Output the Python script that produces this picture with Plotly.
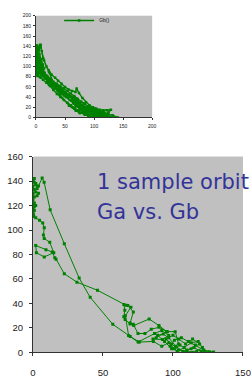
import plotly.graph_objects as go

# ---- one sample orbit (lower chart): Ga vs. Gb ----
orbit_ga = [0.5, 0, 1, 0, 2, 1, 0, 1, 3, 4, 2, 0, 1, 0, 2, 1, 0, 1, 0, 2, 3, 4, 6.6, 8,
            12.3, 22.4, 33, 40.9, 57, 69.5, 76, 86, 92, 97, 101, 105, 110, 115, 120, 126, 129,
            122, 116, 111, 106, 101, 98, 103, 108, 113, 118, 121, 117, 110, 104, 99, 95, 100,
            104, 109, 114, 119, 113, 107, 102, 97, 93, 89, 94, 99, 104, 101.6, 96, 90, 84.5,
            80, 75, 71.7, 69.4, 65.8, 64.9, 65.6, 64.9, 67.8, 71.7, 69.4, 72, 83, 90, 95.5,
            88, 85.7, 92.5, 97, 92, 86.8, 75.1, 68.3, 66, 70, 66.5, 46.1, 31.4, 22.4, 16.5,
            15.6, 13.8, 9.3, 2, 2.5, 8.1, 14.9, 12, 8.1, 7.5, 8.1, 7, 4.7, 2, 0.5, 0, 1, 0]
orbit_gb = [111, 113, 116, 118, 120, 122, 125, 127, 128, 130, 131, 129, 133, 136, 137, 139, 141,
            142, 140, 138, 134, 136, 142.5, 139, 116.5, 88.8, 60.8, 45, 23, 13, 8.5, 9, 5, 8, 3,
            6, 2, 4, 1, 0.5, 0.3, 2, 6, 9, 12, 10, 5, 1, 4, 8, 9, 4, 1, 0.5, 2, 7, 11, 14, 11, 7,
            11, 7, 3, 1, 5, 12, 15, 14, 9, 3, 7, 17, 17, 20.5, 19, 15.4, 15.5, 23, 23.3, 27, 29.1,
            34.4, 39.2, 38.4, 33, 24, 22, 27.3, 22, 17, 12, 11, 10.6, 13.8, 18, 15.4, 8.5, 13.8,
            30, 37, 38.5, 50.8, 57.4, 64.3, 76.2, 77.3, 82, 83.8, 87.3, 81.5, 78, 81.5, 90, 93,
            96, 101.8, 105.8, 108, 110, 112, 114, 119, 121]

# ---- further orbits (upper chart, all in series "Gb()") ----
orbit_b_ga = [0, 2, 1, 3, 2, 5, 8, 10, 14, 18, 22, 27, 33, 38, 44, 50, 56, 62, 68, 70, 74, 80,
              86, 92, 98, 104, 110, 116, 122, 129, 125, 118, 112, 106, 100, 94, 88, 82, 76, 70,
              64, 58, 52, 46, 40, 34, 28, 22, 16, 10, 5, 2, 0]
orbit_b_gb = [95, 100, 108, 115, 124, 132, 143, 130, 112, 100, 92, 84, 78, 72, 66, 60, 55, 52,
              50, 57, 48, 38, 30, 24, 20, 17, 15, 14, 14, 15, 10, 6, 3, 1, 0, 2, 6, 10, 16, 22,
              28, 34, 40, 46, 52, 58, 64, 70, 77, 84, 90, 88, 92]
orbit_c_ga = [0, 3, 7, 12, 18, 24, 30, 36, 42, 48, 54, 60, 66, 72, 78, 84, 90, 96, 102, 110, 118,
              126, 134, 141, 132, 124, 116, 108, 100, 92, 86, 80, 74, 68, 62, 56, 50, 44, 38, 32,
              26, 20, 15, 11, 8, 5, 3, 1, 0, 2, 4, 6, 9, 12, 14, 12]
orbit_c_gb = [86, 84, 80, 74, 68, 62, 54, 46, 40, 34, 29, 24, 18, 13, 9, 5, 3, 1, 0, 1, 3, 2, 1,
              0, 4, 7, 10, 12, 14, 16, 19, 24, 29, 35, 40, 45, 50, 55, 61, 67, 73, 80, 88, 96, 105,
              113, 121, 128, 136, 140, 134, 124, 114, 104, 96, 90]
orbit_d_ga = [0, 4, 9, 15, 21, 27, 33, 39, 45, 51, 57, 63, 69, 75, 81, 87, 93, 99, 105, 111, 117,
              123, 117, 110, 104, 97, 90, 84, 78, 72, 66, 60, 54, 48, 42, 36, 30, 25, 19, 13, 8,
              4, 2, 1, 0, 3, 1, 5, 7, 10, 6, 3]
orbit_d_gb = [100, 96, 90, 84, 78, 72, 66, 60, 54, 48, 42, 37, 31, 26, 21, 17, 13, 10, 7, 5, 3,
              1, 8, 11, 14, 17, 22, 26, 31, 36, 42, 47, 52, 57, 62, 66, 70, 76, 82, 88, 94, 104,
              112, 120, 130, 138, 126, 118, 110, 100, 94, 90]
orbit_e_ga = [20, 26, 31, 37, 43, 49, 55, 61, 67, 73, 79, 85, 91, 97, 103, 109, 115, 121, 113,
              106, 99, 93, 87, 81, 75, 70, 64, 58, 52, 46, 40, 34, 28, 22]
orbit_e_gb = [72, 66, 58, 52, 47, 42, 38, 33, 28, 22, 17, 13, 10, 8, 5, 3, 2, 0, 5, 9, 12, 15,
              18, 22, 27, 31, 36, 41, 45, 50, 56, 62, 68, 74]
orbit_f_ga = [1, 3, 6, 10, 16, 23, 29, 35, 41, 47, 53, 59, 65, 71, 77, 83, 89, 95, 101, 107, 113,
              119, 127, 120, 112, 105, 98, 91, 85, 79, 73, 67, 61, 55, 49, 43, 37, 31, 25, 19, 14,
              9, 5, 2, 0]
orbit_f_gb = [104, 99, 93, 86, 79, 73, 69, 63, 57, 51, 46, 41, 35, 29, 23, 18, 15, 12, 9, 6, 4,
              2, 1, 6, 9, 11, 13, 16, 20, 25, 30, 35, 40, 43, 47, 52, 58, 63, 69, 75, 81, 87, 93,
              101, 107]

top_ga = orbit_ga + orbit_b_ga + orbit_c_ga + orbit_d_ga + orbit_e_ga + orbit_f_ga
top_gb = orbit_gb + orbit_b_gb + orbit_c_gb + orbit_d_gb + orbit_e_gb + orbit_f_gb

top_ticks = [0, 50, 100, 150, 200]
bottom_ticks = [0, 50, 100, 150]

GREEN = "#008000"
W, H = 251, 383

fig = go.Figure()
fig.add_trace(go.Scatter(
    x=top_ga, y=top_gb, name="Gb()", mode="lines+markers",
    line=dict(color=GREEN, width=1.4), marker=dict(color=GREEN, size=2.5, symbol="square"),
    xaxis="x", yaxis="y", showlegend=True))
fig.add_trace(go.Scatter(
    x=orbit_ga, y=orbit_gb, name="Gb()", mode="lines+markers",
    line=dict(color=GREEN, width=1), marker=dict(color=GREEN, size=3, symbol="square"),
    xaxis="x2", yaxis="y2", showlegend=False))

axis_common = dict(showgrid=False, zeroline=False, showline=True, linecolor="#333",
                   linewidth=1, ticks="outside", tickcolor="#333")

fig.update_layout(
    width=W, height=H, margin=dict(l=0, r=0, t=0, b=0),
    paper_bgcolor="white", plot_bgcolor="#c0c0c0",
    font=dict(family="Liberation Sans, Arial, sans-serif", color="#222"),
    xaxis=dict(domain=[34.5 / W, 156 / W], range=[0, 200], tickvals=top_ticks,
               ticklen=2, tickfont=dict(size=5), anchor="y", ticklabelstandoff=2,
               **axis_common),
    yaxis=dict(domain=[(H - 114.7) / H, (H - 10) / H], range=[0, 200], dtick=20,
               ticklen=2, tickfont=dict(size=5), anchor="x", ticklabelstandoff=1,
               **axis_common),
    xaxis2=dict(domain=[31.3 / W, 1], range=[0, 150], tickvals=bottom_ticks,
                ticklen=3, tickfont=dict(size=9.5), anchor="y2", ticklabelstandoff=8,
                ticklabeloverflow="allow", **axis_common),
    yaxis2=dict(domain=[(H - 356.7) / H, (H - 155) / H], range=[0, 160], dtick=20,
                ticklen=3, tickfont=dict(size=9.5), anchor="x2", ticklabelstandoff=4,
                **axis_common),
    legend=dict(x=88 / W, xanchor="center", y=1.0, yanchor="top", orientation="h",
                font=dict(size=5), itemwidth=30, bgcolor="rgba(0,0,0,0)",
                tracegroupgap=0),
    annotations=[
        dict(text="1 sample orbit", xref="paper", yref="paper", x=96 / W, y=(H - 181.7) / H,
             xanchor="left", yanchor="middle", showarrow=False,
             font=dict(family="DejaVu Sans", size=21, color="#333399")),
        dict(text="Ga vs. Gb", xref="paper", yref="paper", x=96 / W, y=(H - 211.7) / H,
             xanchor="left", yanchor="middle", showarrow=False,
             font=dict(family="DejaVu Sans", size=21, color="#333399")),
    ],
)

fig.write_html("out.html", config={"displayModeBar": False},
               post_script="document.body.style.margin='0';document.body.style.overflow='hidden';")
